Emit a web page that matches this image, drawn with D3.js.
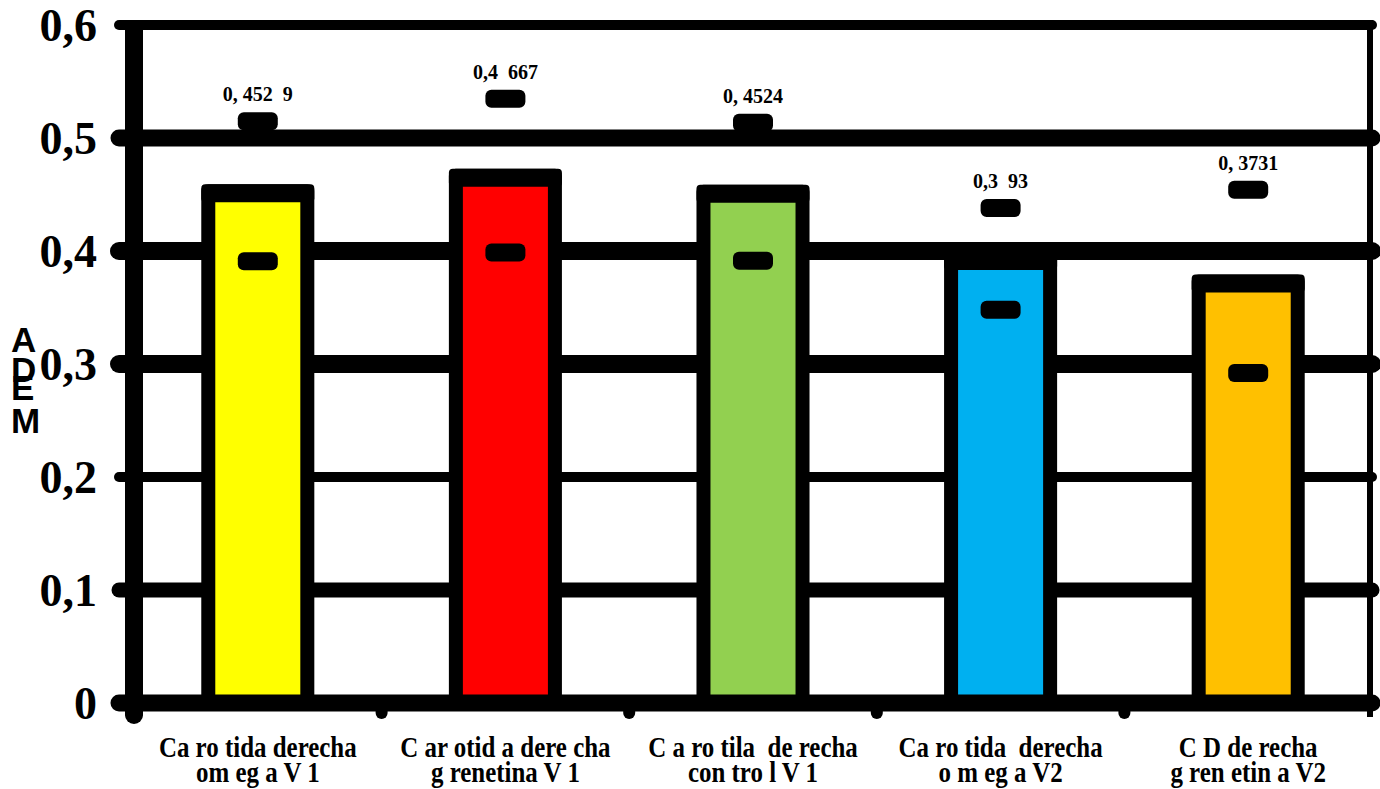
<!DOCTYPE html>
<html>
<head>
<meta charset="utf-8">
<script src="https://cdn.jsdelivr.net/npm/d3@7"></script>
<style>
  body { margin: 0; background: #fff; }
  svg { display: block; }
</style>
</head>
<body>
<script>
// values
var labelLine1 = ["Ca ro tida derecha", "C ar otid a dere cha", "C a ro tila  de recha", "Ca ro tida  derecha", "C D de recha"];
var labelLine2 = ["om eg a V 1", "g renetina V 1", "con tro l V 1", "o m eg a V2", "g ren etin a V2"];
var means = [0.4529, 0.4667, 0.4524, 0.393, 0.3731];
var errors = [0.062, 0.068, 0.061, 0.045, 0.081];
var valueLabels = ["0, 452  9", "0,4  667", "0, 4524", "0,3  93", "0, 3731"];
var barColors = ["#FFFF00", "#FF0000", "#92D050", "#00B0F0", "#FFC000"];
var yTicks = [0, 0.1, 0.2, 0.3, 0.4, 0.5, 0.6];
var yTitle = ["A", "D", "E", "M"];

var width = 1380, height = 789;
var margin = {top: 25, right: 8, bottom: 86, left: 134};

var svg = d3.select("body").append("svg")
  .attr("width", width)
  .attr("height", height);

var y = d3.scaleLinear()
  .domain([0, 0.6])
  .range([height - margin.bottom, margin.top]);

var x = d3.scaleBand()
  .domain(d3.range(means.length))
  .range([margin.left, width - margin.right])
  .padding(0);

var barW = x.bandwidth() * 0.4;
var right = width - margin.right;

// gridline weights differ a lot in the original
var gridW = {0: 17, 0.1: 15, 0.2: 10, 0.3: 18, 0.4: 18, 0.5: 17, 0.6: 10};

svg.append("g")
  .selectAll("line")
  .data(yTicks.filter(function (d) { return d > 0; }))
  .enter()
  .append("line")
  .attr("x1", margin.left - 15)
  .attr("x2", right)
  .attr("y1", function (d) { return y(d); })
  .attr("y2", function (d) { return y(d); })
  .attr("stroke", "#000")
  .attr("stroke-width", function (d) { return gridW[d]; })
  .attr("stroke-linecap", "round");

// right frame
svg.append("line")
  .attr("x1", right - 2).attr("x2", right - 2)
  .attr("y1", y(0.6) - 5).attr("y2", y(0) + 14)
  .attr("stroke", "#000")
  .attr("stroke-width", 6);

// bars
var bars = svg.append("g")
  .selectAll("g")
  .data(means)
  .enter()
  .append("g");

bars.append("rect")
  .attr("x", function (d, i) { return x(i) + x.bandwidth() / 2 - barW / 2; })
  .attr("y", function (d) { return y(d); })
  .attr("width", barW)
  .attr("height", function (d) { return y(0) - y(d); })
  .attr("fill", function (d, i) { return barColors[i]; })
  .attr("stroke", "#000")
  .attr("stroke-width", 14)
  .attr("stroke-linejoin", "round");

// heavier top edge
bars.append("rect")
  .attr("x", function (d, i) { return x(i) + x.bandwidth() / 2 - barW / 2 - 7; })
  .attr("y", function (d) { return y(d) - 7; })
  .attr("width", barW + 14)
  .attr("height", 18)
  .attr("rx", 4)
  .attr("fill", "#000");

// x axis baseline + ticks at band edges
svg.append("line")
  .attr("x1", margin.left - 15)
  .attr("x2", right)
  .attr("y1", y(0))
  .attr("y2", y(0))
  .attr("stroke", "#000")
  .attr("stroke-width", gridW[0])
  .attr("stroke-linecap", "round");

svg.append("g")
  .selectAll("line")
  .data(d3.range(means.length + 1))
  .enter()
  .append("line")
  .attr("x1", function (i) { return i < means.length ? x(i) : right - 2; })
  .attr("x2", function (i) { return i < means.length ? x(i) : right - 2; })
  .attr("y1", y(0))
  .attr("y2", y(0) + 10)
  .attr("stroke", "#000")
  .attr("stroke-width", function (i) { return i == 0 ? 18 : (i == means.length ? 5 : 12); })
  .attr("stroke-linecap", "round");

// error caps (only the caps are visible)
var caps = [];
means.forEach(function (m, i) {
  caps.push({i: i, v: m + errors[i]});
  caps.push({i: i, v: m - errors[i]});
});

svg.append("g")
  .selectAll("rect")
  .data(caps)
  .enter()
  .append("rect")
  .attr("x", function (d) { return x(d.i) + x.bandwidth() / 2 - 20; })
  .attr("y", function (d) { return y(d.v) - 9; })
  .attr("width", 40)
  .attr("height", 18)
  .attr("rx", 6)
  .attr("fill", "#000");

// value labels
svg.append("g")
  .selectAll("text")
  .data(valueLabels)
  .enter()
  .append("text")
  .attr("x", function (d, i) { return x(i) + x.bandwidth() / 2; })
  .attr("y", function (d, i) { return y(means[i] + errors[i]) - 20; })
  .attr("text-anchor", "middle")
  .attr("font-family", "'Liberation Serif', 'Times New Roman', serif")
  .attr("font-weight", "bold")
  .attr("font-size", 20)
  .style("white-space", "pre")
  .text(function (d) { return d; });

// y axis, labels only
var yAxis = svg.append("g")
  .attr("transform", "translate(" + margin.left + ",0)")
  .call(d3.axisLeft(y)
    .tickValues(yTicks)
    .tickSize(0)
    .tickPadding(37)
    .tickFormat(function (d) { return d === 0 ? "0" : d.toFixed(1).replace(".", ","); }));

yAxis.select(".domain").remove();
yAxis.selectAll("text")
  .attr("font-family", "'Liberation Serif', 'Times New Roman', serif")
  .attr("font-weight", "bold")
  .attr("font-size", 46)
  .attr("fill", "#000")
  .attr("dy", "0.34em");

// y axis line
svg.append("line")
  .attr("x1", margin.left).attr("x2", margin.left)
  .attr("y1", y(0.6) + 5).attr("y2", y(0) + 12)
  .attr("stroke", "#000")
  .attr("stroke-width", 18)
  .attr("stroke-linecap", "round");

// x labels
var xl = svg.append("g")
  .selectAll("text")
  .data(labelLine1)
  .enter()
  .append("text")
  .attr("transform", function (d, i) {
    return "translate(" + (x(i) + x.bandwidth() / 2) + ",0) scale(0.86,1)";
  })
  .attr("text-anchor", "middle")
  .attr("font-family", "'Liberation Serif', 'Times New Roman', serif")
  .attr("font-weight", "bold")
  .attr("font-size", 29)
  .style("white-space", "pre");

xl.append("tspan").attr("x", 0).attr("y", 757).text(function (d) { return d; });
xl.append("tspan").attr("x", 0).attr("y", 782).text(function (d, i) { return labelLine2[i]; });

// y title, letters stacked and overlapping
var titleY = [352, 382, 400, 433];
svg.append("g")
  .selectAll("text")
  .data(yTitle)
  .enter()
  .append("text")
  .attr("x", 11)
  .attr("y", function (d, i) { return titleY[i]; })
  .attr("font-family", "'Liberation Sans', Arial, sans-serif")
  .attr("font-weight", "bold")
  .attr("font-size", 35)
  .text(function (d) { return d; });
</script>
</body>
</html>
